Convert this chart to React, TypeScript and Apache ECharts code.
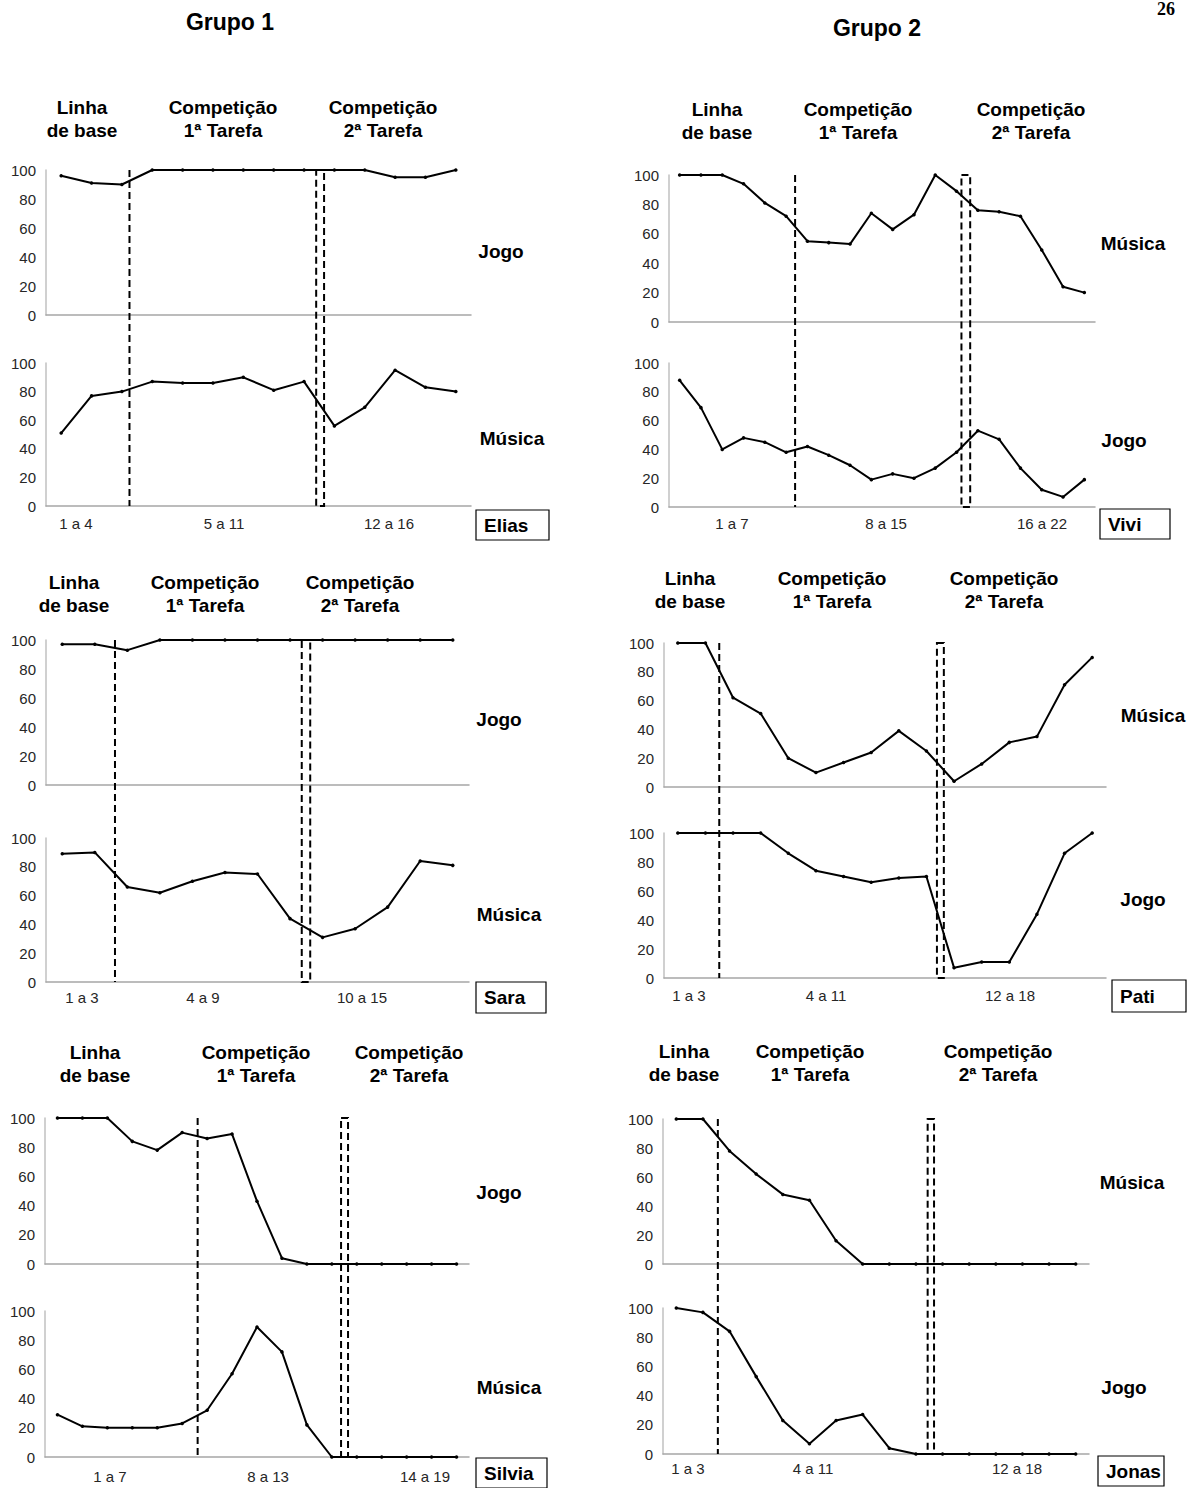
import React, { useEffect, useRef } from "react";
import * as echarts from "echarts";

// ---------- DATA (percent per session point) ----------
const eliasJogo = [96, 91, 90, 100, 100, 100, 100, 100, 100, 100, 100, 95, 95, 100];
const eliasMusica = [51, 77, 80, 87, 86, 86, 90, 81, 87, 56, 69, 95, 83, 80];
const viviMusica = [100, 100, 100, 94, 81, 72, 55, 54, 53, 74, 63, 73, 100, 89, 76, 75, 72, 49, 24, 20];
const viviJogo = [88, 69, 40, 48, 45, 38, 42, 36, 29, 19, 23, 20, 27, 38, 53, 47, 27, 12, 7, 19];
const saraJogo = [97, 97, 93, 100, 100, 100, 100, 100, 100, 100, 100, 100, 100];
const saraMusica = [89, 90, 66, 62, 70, 76, 75, 44, 31, 37, 52, 84, 81];
const patiMusica = [100, 100, 62, 51, 20, 10, 17, 24, 39, 25, 4, 16, 31, 35, 71, 90];
const patiJogo = [100, 100, 100, 100, 86, 74, 70, 66, 69, 70, 7, 11, 11, 44, 86, 100];
const silviaJogo = [100, 100, 100, 84, 78, 90, 86, 89, 43, 4, 0, 0, 0, 0, 0, 0, 0];
const silviaMusica = [29, 21, 20, 20, 20, 23, 32, 57, 89, 72, 22, 0, 0, 0, 0, 0, 0];
const jonasMusica = [100, 100, 78, 62, 48, 44, 16, 0, 0, 0, 0, 0, 0, 0, 0, 0];
const jonasJogo = [100, 97, 84, 53, 23, 7, 23, 27, 4, 0, 0, 0, 0, 0, 0, 0];

// phase-change lines, in session units from the start of the axis: [single, double left, double right]
const eliasPhases = [2.75, 8.9, 9.16];
const viviPhases = [5.92, 13.73, 14.14];
const saraPhases = [2.12, 7.86, 8.12];
const patiPhases = [2.0, 9.88, 10.13];
const silviaPhases = [6.12, 11.87, 12.15];
const jonasPhases = [2.06, 9.94, 10.18];

// session ranges under each panel
const eliasSessions = ["1 a 4", "5 a 11", "12 a 16"];
const viviSessions = ["1 a 7", "8 a 15", "16 a 22"];
const saraSessions = ["1 a 3", "4 a 9", "10 a 15"];
const patiSessions = ["1 a 3", "4 a 11", "12 a 18"];
const silviaSessions = ["1 a 7", "8 a 13", "14 a 19"];
const jonasSessions = ["1 a 3", "4 a 11", "12 a 18"];

const headerLines = [["Linha", "de base"], ["Competição", "1ª Tarefa"], ["Competição", "2ª Tarefa"]];
const groupTitles = ["Grupo 1", "Grupo 2"];
const pageNumber = "26";

// ---------- LAYOUT ----------
const panels = [
  {
    name: "Elias", topName: "Jogo", botName: "Música", topData: eliasJogo, botData: eliasMusica,
    phases: eliasPhases, sessions: eliasSessions,
    left: 46, width: 425, top1: 170, h1: 145, top2: 363, h2: 143,
    headerX: [82, 223, 383], headerY: 107, sessionX: [76, 224, 389], sessionY: 523,
    sideTop: [501, 251], sideBot: [512, 438], box: [476, 510, 73, 30],
  },
  {
    name: "Vivi", topName: "Música", botName: "Jogo", topData: viviMusica, botData: viviJogo,
    phases: viviPhases, sessions: viviSessions,
    left: 669, width: 426, top1: 175, h1: 147, top2: 363, h2: 144,
    headerX: [717, 858, 1031], headerY: 109, sessionX: [732, 886, 1042], sessionY: 523,
    sideTop: [1133, 243], sideBot: [1124, 440], box: [1100, 509, 70, 30],
  },
  {
    name: "Sara", topName: "Jogo", botName: "Música", topData: saraJogo, botData: saraMusica,
    phases: saraPhases, sessions: saraSessions,
    left: 46, width: 423, top1: 640, h1: 145, top2: 838, h2: 144,
    headerX: [74, 205, 360], headerY: 582, sessionX: [82, 203, 362], sessionY: 997,
    sideTop: [499, 719], sideBot: [509, 914], box: [476, 982, 70, 31],
  },
  {
    name: "Pati", topName: "Música", botName: "Jogo", topData: patiMusica, botData: patiJogo,
    phases: patiPhases, sessions: patiSessions,
    left: 664, width: 442, top1: 643, h1: 144, top2: 833, h2: 145,
    headerX: [690, 832, 1004], headerY: 578, sessionX: [689, 826, 1010], sessionY: 995,
    sideTop: [1153, 715], sideBot: [1143, 899], box: [1112, 980, 74, 32],
  },
  {
    name: "Silvia", topName: "Jogo", botName: "Música", topData: silviaJogo, botData: silviaMusica,
    phases: silviaPhases, sessions: silviaSessions,
    left: 45, width: 424, top1: 1118, h1: 146, top2: 1311, h2: 146,
    headerX: [95, 256, 409], headerY: 1052, sessionX: [110, 268, 425], sessionY: 1476,
    sideTop: [499, 1192], sideBot: [509, 1387], box: [476, 1458, 71, 30],
  },
  {
    name: "Jonas", topName: "Música", botName: "Jogo", topData: jonasMusica, botData: jonasJogo,
    phases: jonasPhases, sessions: jonasSessions,
    left: 663, width: 426, top1: 1119, h1: 145, top2: 1308, h2: 146,
    headerX: [684, 810, 998], headerY: 1051, sessionX: [688, 813, 1017], sessionY: 1468,
    sideTop: [1132, 1182], sideBot: [1124, 1387], box: [1098, 1456, 66, 30],
  },
];

const FONT = "'Liberation Sans', Arial, Helvetica, sans-serif";

function txt(text: string, x: number, y: number, size: number, bold: boolean, align = "center", color = "#000") {
  return {
    type: "text",
    x,
    y,
    z: 20,
    silent: true,
    style: {
      text,
      fontSize: size,
      fontWeight: bold ? "bold" : "normal",
      fontFamily: FONT,
      fill: color,
      textAlign: align,
      textVerticalAlign: "middle",
    },
  };
}

export default function App() {
  const ref = useRef<HTMLDivElement>(null);
  useEffect(() => {
    const chart = echarts.init(ref.current as HTMLDivElement, null, { renderer: "svg" });
    const grid: any[] = [];
    const xAxis: any[] = [];
    const yAxis: any[] = [];
    const series: any[] = [];
    panels.forEach((p, k) => {
      const parts: [number, number, number[]][] = [
        [p.top1, p.h1, p.topData],
        [p.top2, p.h2, p.botData],
      ];
      parts.forEach(([t, h, data], j) => {
        const idx = 2 * k + j;
        grid.push({ left: p.left, width: p.width, top: t, height: h });
        xAxis.push({
          type: "value",
          gridIndex: idx,
          min: 0,
          max: data.length,
          axisLabel: { show: false },
          axisTick: { show: false },
          splitLine: { show: false },
          axisLine: { show: true, lineStyle: { color: "#a6a6a6", width: 1.5 } },
        });
        yAxis.push({
          type: "value",
          gridIndex: idx,
          min: 0,
          max: 100,
          interval: 20,
          axisLine: { show: true, lineStyle: { color: "#c0c0c0", width: 1.5 } },
          axisTick: { show: false },
          splitLine: { show: false },
          axisLabel: { color: "#262626", fontSize: 15, fontFamily: FONT, margin: 10 },
        });
        series.push({
          type: "line",
          xAxisIndex: idx,
          yAxisIndex: idx,
          data: data.map((v, i) => [i + 0.5, v]),
          symbol: "circle",
          symbolSize: 3.5,
          showSymbol: true,
          lineStyle: { color: "#000", width: 2 },
          itemStyle: { color: "#000" },
          silent: true,
          z: 3,
        });
      });
    });
    chart.setOption({ animation: false, backgroundColor: "#fff", grid, xAxis, yAxis, series });

    const graphic: any[] = [];
    const dash = { stroke: "#000", lineWidth: 2, lineDash: [7, 4], fill: "none" };
    panels.forEach((p, k) => {
      const ti = 2 * k;
      const bi = 2 * k + 1;
      const px = (v: number, idx: number, y: number) =>
        chart.convertToPixel({ gridIndex: idx } as any, [v, y]) as number[];
      const [sx, sy1] = px(p.phases[0], ti, 100);
      const [, sy2] = px(p.phases[0], bi, 0);
      graphic.push({ type: "line", z: 5, silent: true, shape: { x1: sx, y1: sy1, x2: sx, y2: sy2 }, style: dash });
      const [dx1, dy1] = px(p.phases[1], ti, 100);
      const [dx2] = px(p.phases[2], ti, 100);
      const [, dy2] = px(p.phases[1], bi, 0);
      graphic.push({
        type: "rect",
        z: 5,
        silent: true,
        shape: { x: dx1, y: dy1, width: dx2 - dx1, height: dy2 - dy1 },
        style: dash,
      });

      headerLines.forEach((lines, i) => {
        graphic.push(txt(lines[0], p.headerX[i], p.headerY, 19, true));
        graphic.push(txt(lines[1], p.headerX[i], p.headerY + 23, 19, true));
      });
      p.sessions.forEach((s, i) => {
        graphic.push(txt(s, p.sessionX[i], p.sessionY, 15, false, "center", "#262626"));
      });
      graphic.push(txt(p.topName, p.sideTop[0], p.sideTop[1], 19, true));
      graphic.push(txt(p.botName, p.sideBot[0], p.sideBot[1], 19, true));
      const [bx, by, bw, bh] = p.box;
      graphic.push({
        type: "rect",
        z: 10,
        silent: true,
        shape: { x: bx, y: by, width: bw, height: bh },
        style: { fill: "#fff", stroke: "#000", lineWidth: 1.2 },
      });
      graphic.push(txt(p.name, bx + 8, by + bh / 2, 19, true, "left"));
    });
    graphic.push(txt(groupTitles[0], 230, 22, 23, true));
    graphic.push(txt(groupTitles[1], 877, 28, 23, true));
    graphic.push({
      type: "text",
      x: 1166,
      y: 0,
      z: 20,
      silent: true,
      style: {
        text: pageNumber,
        fontSize: 18,
        fontWeight: "bold",
        fontFamily: "'Liberation Serif', 'DejaVu Serif', serif",
        fill: "#000",
        textAlign: "center",
        textVerticalAlign: "top",
      },
    });
    chart.setOption({ graphic });

    return () => chart.dispose();
  }, []);
  return (
    <div
      ref={ref}
      style={{ position: "absolute", left: 0, top: 0, width: 1192, height: 1488, background: "#fff" }}
    />
  );
}
